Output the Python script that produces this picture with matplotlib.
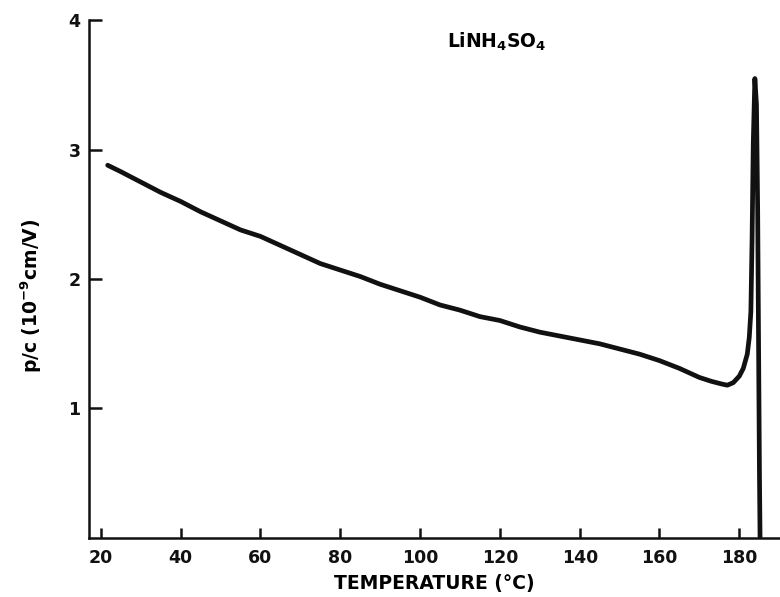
import matplotlib
matplotlib.use("Agg")
import matplotlib.pyplot as plt

# p/c of LiNH4SO4 vs temperature
temp = [21.7, 25, 30, 35, 40, 45, 50, 55, 60, 65, 70, 75, 80, 85, 90,
        95, 100, 105, 110, 115, 120, 125, 130, 135, 140, 145, 150, 155,
        160, 165, 170, 173, 175.5, 177, 178.5, 180, 181, 182, 182.5,
        182.9, 183.2, 183.5, 183.9, 184.3, 184.6, 184.85, 185.05, 185.2]
p_over_c = [2.88, 2.83, 2.75, 2.67, 2.60, 2.52, 2.45, 2.38, 2.33, 2.26,
            2.19, 2.12, 2.07, 2.02, 1.96, 1.91, 1.86, 1.80, 1.76, 1.71,
            1.68, 1.63, 1.59, 1.56, 1.53, 1.50, 1.46, 1.42, 1.37, 1.31,
            1.24, 1.21, 1.19, 1.18, 1.20, 1.25, 1.31, 1.42, 1.55,
            1.75, 2.30, 3.05, 3.55, 3.35, 2.55, 1.40, 0.50, 0.0]

xticks = [20, 40, 60, 80, 100, 120, 140, 160, 180]
yticks = [1, 2, 3, 4]

plt.rcParams['mathtext.default'] = 'bf'

fig = plt.figure(figsize=(7.8, 5.97), dpi=100)
ax = fig.add_axes([0.114, 0.099, 0.886, 0.867])

ax.plot(temp, p_over_c, color='#111111', linewidth=3.4,
        solid_joinstyle='round', solid_capstyle='round')

ax.set_xlim(17.0, 190.2)
ax.set_ylim(0, 4)
ax.set_xticks(xticks)
ax.set_yticks(yticks)
ax.spines['top'].set_visible(False)
ax.spines['right'].set_visible(False)
for s in ['left', 'bottom']:
    ax.spines[s].set_linewidth(1.8)
    ax.spines[s].set_color('#111111')

ax.tick_params(axis='y', direction='in', length=9, width=1.8,
               labelsize=12.5, pad=6, colors='#111111')
ax.tick_params(axis='x', direction='in', length=7, width=1.8,
               labelsize=12.5, pad=8, colors='#111111')
for lab in ax.get_xticklabels() + ax.get_yticklabels():
    lab.set_fontweight('bold')

ax.set_xlabel('TEMPERATURE (°C)', fontsize=13.5, fontweight='bold', labelpad=5)
fig.text(31 / 780, 1 - 296 / 597, r'p/c (10$^{-9}$cm/V)', rotation=90,
         fontsize=13.5, fontweight='bold', ha='center', va='center')
fig.text(497 / 780, 1 - 42 / 597, r'LiNH$_4$SO$_4$', fontsize=13.5,
         fontweight='bold', ha='center', va='center')

fig.savefig('out.png', dpi=100)
